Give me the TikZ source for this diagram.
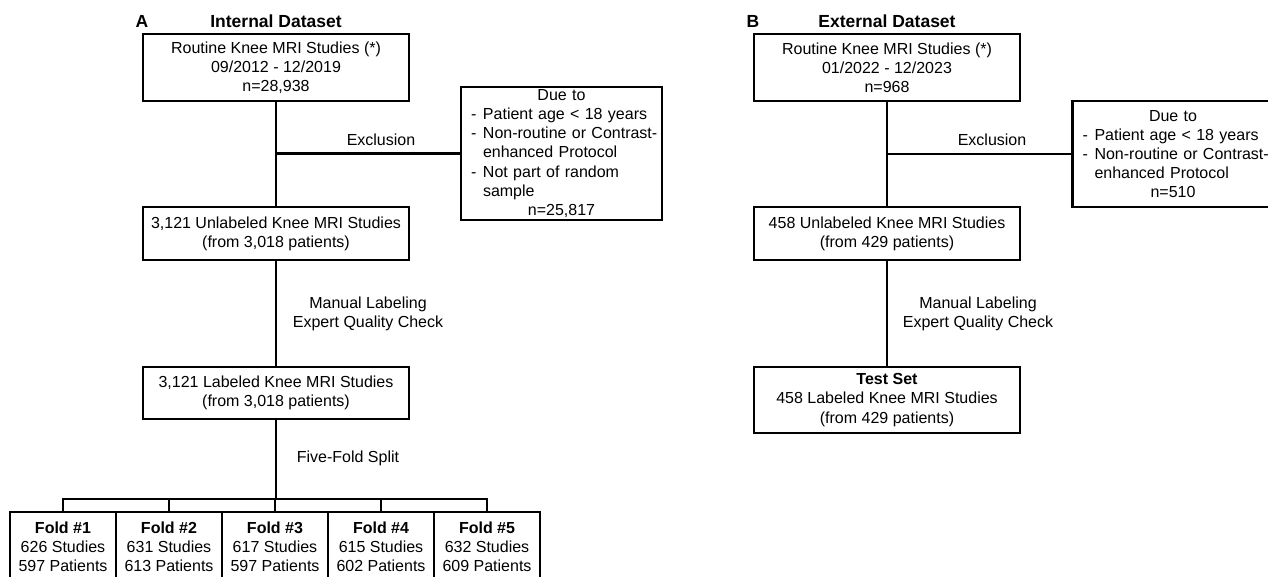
\documentclass[tikz,border=0pt]{standalone}
\usepackage{fontspec}
\setmainfont{Liberation Sans}
\newcommand{\dueitem}[1]{\mbox{\makebox[12pt][l]{-}#1}}
\newcommand{\duecont}[1]{\mbox{\hspace*{12pt}#1}}
\newcommand{\duemid}[1]{\makebox[181pt]{#1}}
\newcommand{\foldtail}{\\[-9pt]\mbox{}}
\begin{document}
\begin{tikzpicture}[x=1pt,y=-1pt,
  box/.style={draw, line width=2.7pt, rectangle, inner sep=0pt, align=center,
    font=\fontsize{16}{19.2}\selectfont},
  lbl/.style={inner sep=0pt, align=center, font=\fontsize{16}{19.2}\selectfont},
  ttl/.style={inner sep=0pt, font=\fontsize{17.5}{20}\selectfont\bfseries},
  link/.style={line width=2.7pt},
  duebox/.style={box, align=left, inner xsep=10pt, inner ysep=0pt, text width=181pt},
  foldbox/.style={box, minimum width=106pt, minimum height=80pt}
]
\useasboundingbox (0,0) rectangle (1268,577);

% ---------- Panel A ----------
\node[ttl] (tA) at (142,21) {A};
\node[ttl] (tAi) at (276,21) {Internal Dataset};
\node[box, minimum width=266pt, minimum height=67pt] (a1) at (276,67.5)
  {Routine Knee MRI Studies (*)\\09/2012 - 12/2019\\n=28,938};
\node[box, minimum width=266pt, minimum height=53pt] (a2) at (276,233.5)
  {3,121 Unlabeled Knee MRI Studies\\(from 3,018 patients)};
\node[box, minimum width=266pt, minimum height=52pt] (a3) at (276,393)
  {3,121 Labeled Knee MRI Studies\\(from 3,018 patients)};
\node[duebox, minimum height=133pt] (da) at (561.5,153.5)
  {\duemid{Due to}\\
   \dueitem{Patient age < 18 years}\\
   \dueitem{Non-routine or Contrast-}\\
   \duecont{enhanced Protocol}\\
   \dueitem{Not part of random}\\
   \duecont{sample}\\
   \duemid{n=25,817}};

\node[lbl] (exA) at (381,140) {Exclusion};
\node[lbl] (mlA) at (368,313.5) {Manual Labeling\\Expert Quality Check};
\node[lbl] (ffA) at (348,458) {Five-Fold Split};

\node[foldbox] (f1) at (63,552)
  {\textbf{Fold \#1}\\626 Studies\\597 Patients\foldtail};
\node[foldbox] (f2) at (169,552)
  {\textbf{Fold \#2}\\631 Studies\\613 Patients\foldtail};
\node[foldbox] (f3) at (275,552)
  {\textbf{Fold \#3}\\617 Studies\\597 Patients\foldtail};
\node[foldbox] (f4) at (381,552)
  {\textbf{Fold \#4}\\615 Studies\\602 Patients\foldtail};
\node[foldbox] (f5) at (487,552)
  {\textbf{Fold \#5}\\632 Studies\\609 Patients\foldtail};

\coordinate (jA) at (a1.south |- da.west);
\coordinate (sp) at (a3.south |- 0,499);
\draw[link] (a1.south) -- (a2.north);
\draw[link] (jA) -- (da.west);
\draw[link] (a2.south) -- (a3.north);
\draw[link] (a3.south) -- (sp);
\draw[link] (f1.north) -- (f1.north |- sp) -- (f5.north |- sp) -- (f5.north);
\draw[link] (f2.north |- sp) -- (f2.north);
\draw[link] (f3.north |- sp) -- (f3.north);
\draw[link] (f4.north |- sp) -- (f4.north);

% ---------- Panel B ----------
\node[ttl] (tB) at (753,21) {B};
\node[ttl] (tBe) at (887,21) {External Dataset};
\node[box, minimum width=266pt, minimum height=67pt] (b1) at (887,67.5)
  {Routine Knee MRI Studies (*)\\01/2022 - 12/2023\\n=968};
\node[box, minimum width=266pt, minimum height=53pt] (b2) at (887,233.5)
  {458 Unlabeled Knee MRI Studies\\(from 429 patients)};
\node[box, minimum width=266pt, minimum height=66pt] (b3) at (887,400)
  {\textbf{Test Set}\\458 Labeled Knee MRI Studies\\(from 429 patients)};
\node[duebox, minimum height=106pt] (db) at (1173,154)
  {\duemid{Due to}\\
   \dueitem{Patient age < 18 years}\\
   \dueitem{Non-routine or Contrast-}\\
   \duecont{enhanced Protocol}\\
   \duemid{n=510}};

\node[lbl] (exB) at (992,140) {Exclusion};
\node[lbl] (mlB) at (978,313.5) {Manual Labeling\\Expert Quality Check};

\coordinate (jB) at (b1.south |- db.west);
\draw[link] (b1.south) -- (b2.north);
\draw[link] (jB) -- (db.west);
\draw[link] (b2.south) -- (b3.north);
\end{tikzpicture}
\end{document}
